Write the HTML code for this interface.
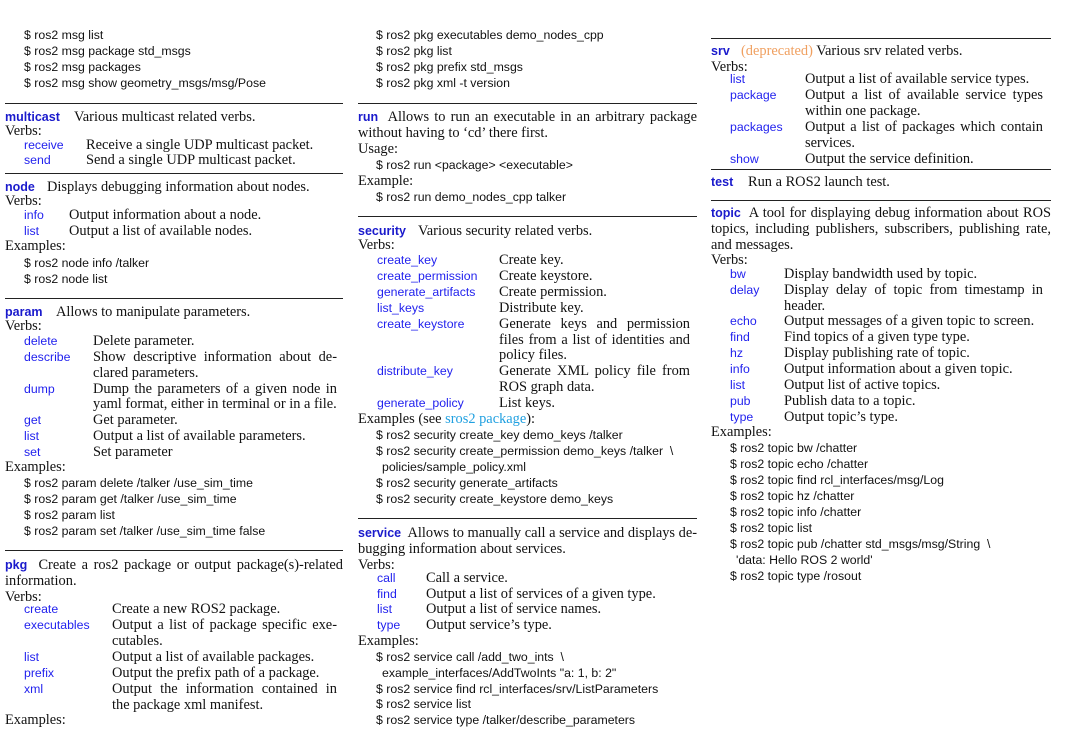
<!DOCTYPE html>
<html><head><meta charset="utf-8"><style>
body{margin:0;width:1068px;height:741px;background:#fff;position:relative;overflow:hidden;color:#111}
div{position:absolute;white-space:nowrap;line-height:16px;font:14.4px "Liberation Serif",serif}
.c{font:12.3px "Liberation Sans",sans-serif;margin-top:1px}
.v{font:12.3px "Liberation Sans",sans-serif;color:#2222ee;margin-top:1px}
.h{font:bold 12.5px "Liberation Sans",sans-serif;color:#1a1acc}
div.h{margin-top:1px}
.j{text-align:justify;text-align-last:justify;white-space:normal}
.r{height:0;border-top:1.3px solid #222;margin:0}
.o{color:#f0a060}.l{color:#20a0e0}
</style></head><body>
<!-- column 1 -->
<div class="c" style="left:24px;top:27px">$ ros2 msg list</div>
<div class="c" style="left:24px;top:43px">$ ros2 msg package std_msgs</div>
<div class="c" style="left:24px;top:59px">$ ros2 msg packages</div>
<div class="c" style="left:24px;top:75px">$ ros2 msg show geometry_msgs/msg/Pose</div>
<div class="r" style="left:5px;top:103px;width:338px"></div>
<div class="h" style="left:5px;top:109px">multicast</div><div style="left:74px;top:109px">Various multicast related verbs.</div>
<div style="left:5px;top:123px">Verbs:</div>
<div class="v" style="left:24px;top:137px">receive</div><div style="left:86px;top:137px">Receive a single UDP multicast packet.</div>
<div class="v" style="left:24px;top:152px">send</div><div style="left:86px;top:152px">Send a single UDP multicast packet.</div>
<div class="r" style="left:5px;top:173px;width:338px"></div>
<div class="h" style="left:5px;top:179px">node</div><div style="left:47px;top:179px">Displays debugging information about nodes.</div>
<div style="left:5px;top:193px">Verbs:</div>
<div class="v" style="left:24px;top:207px">info</div><div style="left:69px;top:207px">Output information about a node.</div>
<div class="v" style="left:24px;top:223px">list</div><div style="left:69px;top:223px">Output a list of available nodes.</div>
<div style="left:5px;top:238px">Examples:</div>
<div class="c" style="left:24px;top:255px">$ ros2 node info /talker</div>
<div class="c" style="left:24px;top:271px">$ ros2 node list</div>
<div class="r" style="left:5px;top:298px;width:338px"></div>
<div class="h" style="left:5px;top:304px">param</div><div style="left:56px;top:304px">Allows to manipulate parameters.</div>
<div style="left:5px;top:318px">Verbs:</div>
<div class="v" style="left:24px;top:333px">delete</div><div style="left:93px;top:333px">Delete parameter.</div>
<div class="v" style="left:24px;top:349px">describe</div><div class="j" style="left:93px;top:349px;width:244px">Show descriptive information about de-</div>
<div style="left:93px;top:365px">clared parameters.</div>
<div class="v" style="left:24px;top:381px">dump</div><div class="j" style="left:93px;top:381px;width:244px">Dump the parameters of a given node in</div>
<div style="left:93px;top:396px">yaml format, either in terminal or in a file.</div>
<div class="v" style="left:24px;top:412px">get</div><div style="left:93px;top:412px">Get parameter.</div>
<div class="v" style="left:24px;top:428px">list</div><div style="left:93px;top:428px">Output a list of available parameters.</div>
<div class="v" style="left:24px;top:444px">set</div><div style="left:93px;top:444px">Set parameter</div>
<div style="left:5px;top:459px">Examples:</div>
<div class="c" style="left:24px;top:475px">$ ros2 param delete /talker /use_sim_time</div>
<div class="c" style="left:24px;top:491px">$ ros2 param get /talker /use_sim_time</div>
<div class="c" style="left:24px;top:507px">$ ros2 param list</div>
<div class="c" style="left:24px;top:523px">$ ros2 param set /talker /use_sim_time false</div>
<div class="r" style="left:5px;top:550px;width:338px"></div>
<div class="j" style="left:5px;top:557px;width:338px"><span class="h">pkg</span>&nbsp; Create a ros2 package or output package(s)-related</div>
<div style="left:5px;top:573px">information.</div>
<div style="left:5px;top:589px">Verbs:</div>
<div class="v" style="left:24px;top:601px">create</div><div style="left:112px;top:601px">Create a new ROS2 package.</div>
<div class="v" style="left:24px;top:617px">executables</div><div class="j" style="left:112px;top:617px;width:225px">Output a list of package specific exe-</div>
<div style="left:112px;top:633px">cutables.</div>
<div class="v" style="left:24px;top:649px">list</div><div style="left:112px;top:649px">Output a list of available packages.</div>
<div class="v" style="left:24px;top:665px">prefix</div><div style="left:112px;top:665px">Output the prefix path of a package.</div>
<div class="v" style="left:24px;top:681px">xml</div><div class="j" style="left:112px;top:681px;width:225px">Output the information contained in</div>
<div style="left:112px;top:697px">the package xml manifest.</div>
<div style="left:5px;top:712px">Examples:</div>
<!-- column 2 -->
<div class="c" style="left:376px;top:27px">$ ros2 pkg executables demo_nodes_cpp</div>
<div class="c" style="left:376px;top:43px">$ ros2 pkg list</div>
<div class="c" style="left:376px;top:59px">$ ros2 pkg prefix std_msgs</div>
<div class="c" style="left:376px;top:75px">$ ros2 pkg xml -t version</div>
<div class="r" style="left:358px;top:103px;width:339px"></div>
<div class="j" style="left:358px;top:109px;width:339px"><span class="h">run</span>&nbsp; Allows to run an executable in an arbitrary package</div>
<div style="left:358px;top:125px">without having to ‘cd’ there first.</div>
<div style="left:358px;top:141px">Usage:</div>
<div class="c" style="left:376px;top:157px">$ ros2 run &lt;package&gt; &lt;executable&gt;</div>
<div style="left:358px;top:173px">Example:</div>
<div class="c" style="left:376px;top:189px">$ ros2 run demo_nodes_cpp talker</div>
<div class="r" style="left:358px;top:216px;width:339px"></div>
<div class="h" style="left:358px;top:223px">security</div><div style="left:418px;top:223px">Various security related verbs.</div>
<div style="left:358px;top:237px">Verbs:</div>
<div class="v" style="left:377px;top:252px">create_key</div><div style="left:499px;top:252px">Create key.</div>
<div class="v" style="left:377px;top:268px">create_permission</div><div style="left:499px;top:268px">Create keystore.</div>
<div class="v" style="left:377px;top:284px">generate_artifacts</div><div style="left:499px;top:284px">Create permission.</div>
<div class="v" style="left:377px;top:300px">list_keys</div><div style="left:499px;top:300px">Distribute key.</div>
<div class="v" style="left:377px;top:316px">create_keystore</div><div class="j" style="left:499px;top:316px;width:191px">Generate keys and permission</div>
<div class="j" style="left:499px;top:332px;width:191px">files from a list of identities and</div>
<div style="left:499px;top:347px">policy files.</div>
<div class="v" style="left:377px;top:363px">distribute_key</div><div class="j" style="left:499px;top:363px;width:191px">Generate XML policy file from</div>
<div style="left:499px;top:379px">ROS graph data.</div>
<div class="v" style="left:377px;top:395px">generate_policy</div><div style="left:499px;top:395px">List keys.</div>
<div style="left:358px;top:411px">Examples (see <span class="l">sros2 package</span>):</div>
<div class="c" style="left:376px;top:427px">$ ros2 security create_key demo_keys /talker</div>
<div class="c" style="left:376px;top:443px">$ ros2 security create_permission demo_keys /talker &nbsp;\</div>
<div class="c" style="left:382px;top:459px">policies/sample_policy.xml</div>
<div class="c" style="left:376px;top:475px">$ ros2 security generate_artifacts</div>
<div class="c" style="left:376px;top:491px">$ ros2 security create_keystore demo_keys</div>
<div class="r" style="left:358px;top:518px;width:339px"></div>
<div class="j" style="left:358px;top:525px;width:339px"><span class="h">service</span>&nbsp; Allows to manually call a service and displays de-</div>
<div style="left:358px;top:541px">bugging information about services.</div>
<div style="left:358px;top:557px">Verbs:</div>
<div class="v" style="left:377px;top:570px">call</div><div style="left:426px;top:570px">Call a service.</div>
<div class="v" style="left:377px;top:586px">find</div><div style="left:426px;top:586px">Output a list of services of a given type.</div>
<div class="v" style="left:377px;top:601px">list</div><div style="left:426px;top:601px">Output a list of service names.</div>
<div class="v" style="left:377px;top:617px">type</div><div style="left:426px;top:617px">Output service’s type.</div>
<div style="left:358px;top:633px">Examples:</div>
<div class="c" style="left:376px;top:649px">$ ros2 service call /add_two_ints &nbsp;\</div>
<div class="c" style="left:382px;top:665px">example_interfaces/AddTwoInts "a: 1, b: 2"</div>
<div class="c" style="left:376px;top:681px">$ ros2 service find rcl_interfaces/srv/ListParameters</div>
<div class="c" style="left:376px;top:696px">$ ros2 service list</div>
<div class="c" style="left:376px;top:712px">$ ros2 service type /talker/describe_parameters</div>
<!-- column 3 -->
<div class="r" style="left:711px;top:38px;width:340px"></div>
<div class="h" style="left:711px;top:43px">srv</div><div style="left:741px;top:43px"><span class="o">(deprecated)</span> Various srv related verbs.</div>
<div style="left:711px;top:59px">Verbs:</div>
<div class="v" style="left:730px;top:71px">list</div><div style="left:805px;top:71px">Output a list of available service types.</div>
<div class="v" style="left:730px;top:87px">package</div><div class="j" style="left:805px;top:87px;width:238px">Output a list of available service types</div>
<div style="left:805px;top:103px">within one package.</div>
<div class="v" style="left:730px;top:119px">packages</div><div class="j" style="left:805px;top:119px;width:238px">Output a list of packages which contain</div>
<div style="left:805px;top:135px">services.</div>
<div class="v" style="left:730px;top:151px">show</div><div style="left:805px;top:151px">Output the service definition.</div>
<div class="r" style="left:711px;top:169px;width:340px"></div>
<div class="h" style="left:711px;top:174px">test</div><div style="left:748px;top:174px">Run a ROS2 launch test.</div>
<div class="r" style="left:711px;top:200px;width:340px"></div>
<div class="j" style="left:711px;top:205px;width:340px"><span class="h">topic</span>&nbsp; A tool for displaying debug information about ROS</div>
<div class="j" style="left:711px;top:221px;width:340px">topics, including publishers, subscribers, publishing rate,</div>
<div style="left:711px;top:237px">and messages.</div>
<div style="left:711px;top:252px">Verbs:</div>
<div class="v" style="left:730px;top:266px">bw</div><div style="left:784px;top:266px">Display bandwidth used by topic.</div>
<div class="v" style="left:730px;top:282px">delay</div><div class="j" style="left:784px;top:282px;width:259px">Display delay of topic from timestamp in</div>
<div style="left:784px;top:298px">header.</div>
<div class="v" style="left:730px;top:313px">echo</div><div style="left:784px;top:313px">Output messages of a given topic to screen.</div>
<div class="v" style="left:730px;top:329px">find</div><div style="left:784px;top:329px">Find topics of a given type type.</div>
<div class="v" style="left:730px;top:345px">hz</div><div style="left:784px;top:345px">Display publishing rate of topic.</div>
<div class="v" style="left:730px;top:361px">info</div><div style="left:784px;top:361px">Output information about a given topic.</div>
<div class="v" style="left:730px;top:377px">list</div><div style="left:784px;top:377px">Output list of active topics.</div>
<div class="v" style="left:730px;top:393px">pub</div><div style="left:784px;top:393px">Publish data to a topic.</div>
<div class="v" style="left:730px;top:409px">type</div><div style="left:784px;top:409px">Output topic’s type.</div>
<div style="left:711px;top:424px">Examples:</div>
<div class="c" style="left:730px;top:440px">$ ros2 topic bw /chatter</div>
<div class="c" style="left:730px;top:456px">$ ros2 topic echo /chatter</div>
<div class="c" style="left:730px;top:472px">$ ros2 topic find rcl_interfaces/msg/Log</div>
<div class="c" style="left:730px;top:488px">$ ros2 topic hz /chatter</div>
<div class="c" style="left:730px;top:504px">$ ros2 topic info /chatter</div>
<div class="c" style="left:730px;top:520px">$ ros2 topic list</div>
<div class="c" style="left:730px;top:536px">$ ros2 topic pub /chatter std_msgs/msg/String &nbsp;\</div>
<div class="c" style="left:736px;top:552px">'data: Hello ROS 2 world'</div>
<div class="c" style="left:730px;top:568px">$ ros2 topic type /rosout</div>
</body></html>
